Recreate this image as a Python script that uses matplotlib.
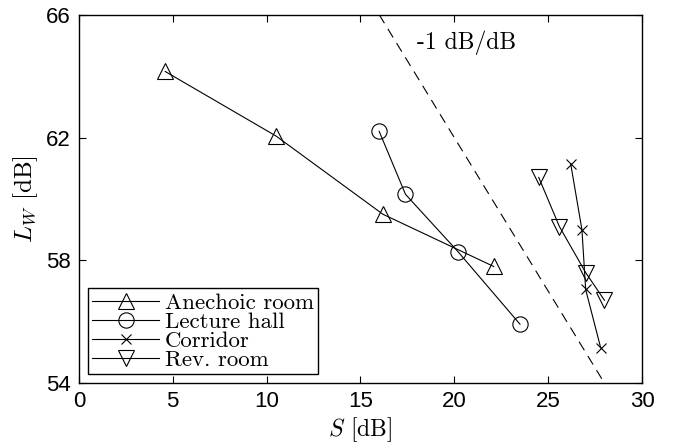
import matplotlib
matplotlib.use("Agg")
import matplotlib.pyplot as plt
import numpy as np

plt.rcParams["mathtext.fontset"] = "cm"
plt.rcParams["font.family"] = ["Liberation Sans", "DejaVu Sans"]

# data: S [dB] vs L_W [dB]
anechoic_s = [4.6, 10.5, 16.2, 22.1]
anechoic_lw = [64.15, 62.05, 59.5, 57.8]

lecture_s = [16.0, 17.4, 20.2, 23.5]
lecture_lw = [62.2, 60.15, 58.28, 55.92]

corridor_s = [26.2, 26.8, 27.0, 27.8]
corridor_lw = [61.15, 59.0, 57.05, 55.15]

rev_s = [24.5, 25.6, 27.0, 28.0]
rev_lw = [60.7, 59.1, 57.6, 56.7]

# reference slope line -1 dB/dB
ref_s = [16.0, 28.0]
ref_lw = [66.0, 54.0]

SERIF = "cmr10"

fig = plt.figure(figsize=(6.74, 4.45), dpi=100)
ax = fig.add_axes([0.117, 0.139, 0.8355, 0.828])

lw = 0.8
ax.plot(anechoic_s, anechoic_lw, "k-", marker="^", ms=12, mfc="none", mew=0.8, lw=lw,
        label="Anechoic room")
ax.plot(lecture_s, lecture_lw, "k-", marker="o", ms=11, mfc="none", mew=0.8, lw=lw,
        label="Lecture hall")
ax.plot(corridor_s, corridor_lw, "k-", marker="x", ms=7, mew=0.8, lw=lw,
        label="Corridor")
ax.plot(rev_s, rev_lw, "k-", marker="v", ms=12, mfc="none", mew=0.8, lw=lw,
        label="Rev. room")
ax.plot(ref_s, ref_lw, "k--", lw=0.8, dashes=(9, 6))

ax.text(18.0, 65.1, "-1 dB/dB", family=SERIF, fontsize=17, va="center", ha="left")

ax.set_xlim(0, 30)
ax.set_ylim(54, 66)
ax.set_xticks([0, 5, 10, 15, 20, 25, 30])
ax.set_yticks([54, 58, 62, 66])
ax.tick_params(direction="in", top=True, right=True, length=5, width=0.8,
               labelsize=16, pad=6)
for sp in ax.spines.values():
    sp.set_linewidth(1.0)

ax.set_xlabel(r"$S$ [dB]", family=SERIF, fontsize=17, labelpad=2)
ax.set_ylabel(r"$L_W$ [dB]", family=SERIF, fontsize=18, labelpad=4)

leg = ax.legend(loc="lower left", bbox_to_anchor=(0.016, 0.0245), borderaxespad=0,
                prop={"family": SERIF, "size": 16.5}, fancybox=False, framealpha=1,
                edgecolor="k", handlelength=2.9, handletextpad=0.25,
                labelspacing=-0.05, borderpad=0.2)
leg.get_frame().set_linewidth(1.0)

fig.savefig("out.png", dpi=100)
